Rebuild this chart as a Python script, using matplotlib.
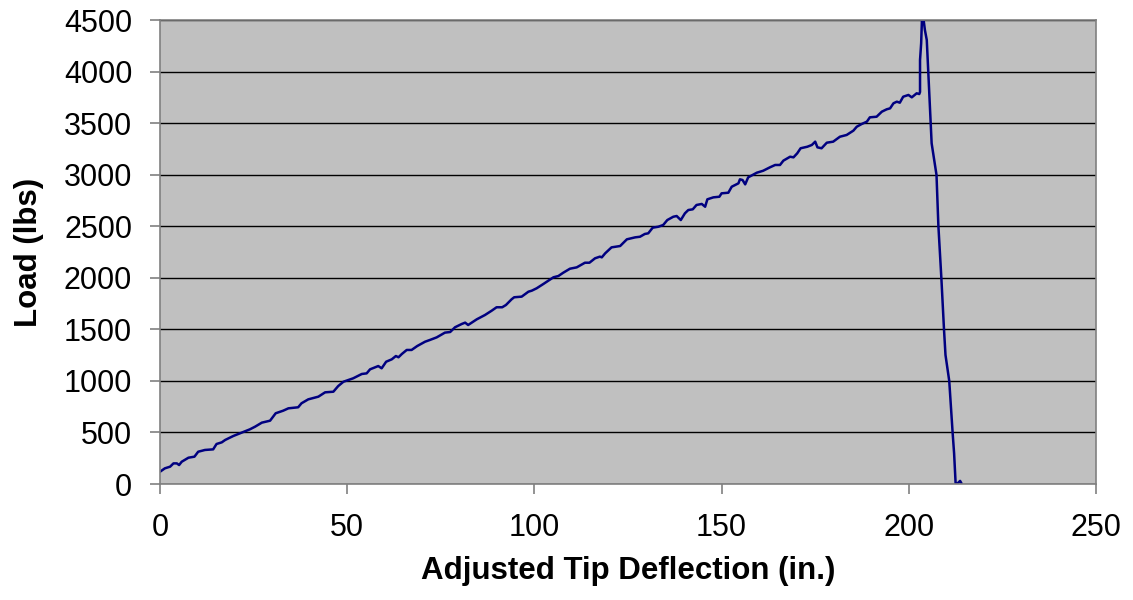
import numpy as np
import matplotlib.pyplot as plt

# deflection (in.) and load (lbs)
deflection = [0.0, 1.3, 2.7, 3.6, 4.5, 5.1, 5.8, 7.6, 9.2, 10.2, 12.0, 14.2, 15.1, 16.5, 17.4,
              19.6, 21.8, 24.0, 25.4, 27.2, 29.4, 30.9, 32.9, 34.3, 36.9, 37.8, 39.6, 42.3,
              44.1, 46.3, 47.6, 49.0, 51.6, 53.9, 55.2, 56.1, 57.4, 58.3, 59.2, 60.4, 61.9,
              63.0, 63.7, 64.6, 65.9, 67.2, 68.7, 70.8, 72.1, 73.9, 76.1, 77.5, 78.8, 80.6,
              81.5, 82.3, 84.6, 86.8, 88.6, 89.9, 91.4, 92.4, 93.9, 94.6, 96.6, 98.4, 99.3,
              100.6, 102.4, 105.1, 106.4, 107.7, 109.5, 111.3, 113.5, 114.7, 116.2, 117.5,
              118.0, 118.9, 120.6, 122.9, 124.7, 126.9, 128.2, 129.5, 130.4, 131.6, 133.1,
              134.4, 135.5, 137.1, 138.0, 139.1, 140.2, 141.1, 142.3, 143.3, 144.7, 145.6,
              146.2, 147.8, 149.4, 150.0, 151.8, 152.7, 154.5, 154.9, 155.6, 156.3, 157.1,
              159.4, 161.1, 162.9, 164.3, 165.6, 166.5, 168.3, 169.2, 170.2, 171.1, 172.9,
              174.1, 175.0, 175.6, 176.7, 178.1, 179.8, 181.6, 183.4, 185.2, 186.1, 187.4,
              188.8, 189.6, 191.4, 192.8, 194.1, 195.0, 195.9, 196.8, 197.6, 198.5, 199.9,
              200.8, 202.1, 202.8, 203.0, 203.0, 203.3, 203.6, 204.3, 204.8, 206.1, 207.4,
              207.9, 208.7, 209.4, 209.8, 210.8, 211.7, 212.1, 212.5, 213.0, 213.7, 214.0]
load = [119, 152, 168, 200, 200, 184, 216, 255, 265, 313, 330, 336, 388, 404, 427,
        466, 498, 530, 556, 595, 614, 686, 711, 734, 744, 783, 821, 847,
        889, 895, 950, 992, 1025, 1067, 1073, 1112, 1131, 1144, 1122, 1186, 1209,
        1241, 1229, 1261, 1300, 1300, 1338, 1380, 1397, 1422, 1468, 1474, 1520, 1552,
        1565, 1542, 1597, 1639, 1681, 1714, 1714, 1736, 1791, 1811, 1817, 1865, 1875,
        1898, 1940, 2005, 2017, 2049, 2088, 2101, 2146, 2146, 2189, 2205,
        2198, 2237, 2295, 2308, 2373, 2392, 2398, 2425, 2431, 2486, 2495,
        2512, 2560, 2592, 2599, 2560, 2625, 2657, 2664, 2706, 2716, 2689,
        2761, 2780, 2786, 2819, 2825, 2883, 2916, 2955, 2948, 2906, 2974,
        3019, 3038, 3071, 3094, 3094, 3136, 3174, 3168, 3207, 3256, 3271,
        3288, 3320, 3265, 3256, 3310, 3320, 3368, 3385, 3427, 3465, 3491,
        3514, 3556, 3562, 3611, 3634, 3643, 3692, 3708, 3698, 3756, 3773,
        3750, 3789, 3782, 3802, 4112, 4274, 4600, 4403, 4306, 3304, 2997,
        2505, 1995, 1500, 1251, 1000, 500, 297, 10, 5, 30, 10]

plt.rcParams['font.family'] = ['Liberation Sans', 'DejaVu Sans']

fig = plt.figure(figsize=(11.33, 6), dpi=100)
ax = fig.add_axes([160/1133, 116/600, 936/1133, 464/600])
ax.set_facecolor('#C0C0C0')

ax.plot(deflection, load, color='#000080', linewidth=1.8)

ax.set_xlim(0, 250)
ax.set_ylim(0, 4500)
ax.set_xticks(np.arange(0, 251, 50))
ax.set_yticks(np.arange(0, 4501, 500))
ax.yaxis.grid(True, color='black', linewidth=1)
ax.set_axisbelow(True)

for s in ax.spines.values():
    s.set_color('#808080')
    s.set_linewidth(1.2)
ax.tick_params(axis='both', colors='#808080', labelcolor='black', labelsize=22,
               length=7, width=1.2, direction='out')
ax.tick_params(axis='x', pad=14)
ax.tick_params(axis='y', pad=13)

ax.set_xlabel('Adjusted Tip Deflection (in.)', fontsize=22.5, fontweight='bold', labelpad=9)
ax.set_ylabel('Load (lbs)', fontsize=22.5, fontweight='bold', labelpad=14)

plt.savefig('out.png', dpi=100)
